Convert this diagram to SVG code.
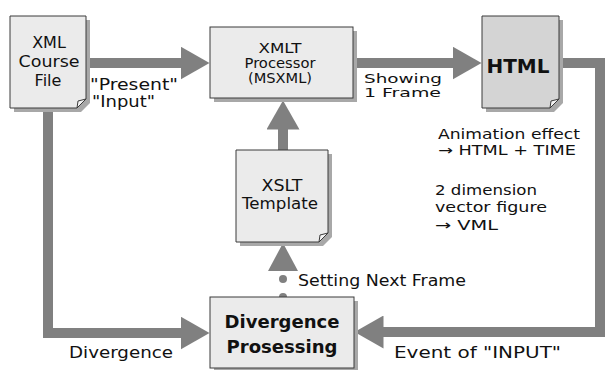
<svg xmlns="http://www.w3.org/2000/svg" width="611" height="370" viewBox="0 0 611 370">
<style>
.bg{fill:#ffffff}
.shadow{fill:#a8a8a8}
.node{fill:#ebebeb;stroke:#3a3a3a;stroke-width:1}
.dark{fill:#d4d4d4}
.fold{fill:#f4f4f4;stroke:#3a3a3a;stroke-width:1}
.conn{fill:none;stroke:#808080;stroke-width:10;stroke-linejoin:miter}
.head{fill:#808080}
text{font-family:"DejaVu Sans","Liberation Sans",sans-serif;fill:#111111}
.c{text-anchor:middle}
.b{font-weight:bold}
</style>
<defs>
<marker id="ah" markerUnits="userSpaceOnUse" viewBox="0 0 29 33" markerWidth="29" markerHeight="33" refX="0.5" refY="16.5" orient="auto">
<path d="M0,0 L29,16.5 L0,33 Z" fill="#808080"/>
</marker>
</defs>
<rect class="bg" x="0" y="0" width="611" height="370"/>

<g id="connectors">
<path class="conn" d="M86,63 H181" marker-end="url(#ah)"/>
<path class="conn" d="M353,63 H453" marker-end="url(#ah)"/>
<path class="conn" d="M559,63 H600 V332 H383" marker-end="url(#ah)"/>
<path class="conn" d="M48,108 V333 H181" marker-end="url(#ah)"/>
<path class="conn" d="M283,150 V129" marker-end="url(#ah)"/>
<polygon class="head" points="268,271 283,243 298,271"/>
<circle class="head" cx="283" cy="279" r="4"/>
<circle class="head" cx="283" cy="297" r="4"/>
</g>

<g id="xml-course-file">
<path class="shadow" d="M14,20 H90 V103 L81,112 H14 Z"/>
<path class="node" d="M10,16 H86 V99 L77,108 H10 Z"/>
<path class="fold" d="M86,99 L78,101 L77,108 Z"/>
<text class="c" x="49" y="48" font-size="16">XML</text>
<text class="c" x="49" y="67" font-size="16" textLength="61" lengthAdjust="spacingAndGlyphs">Course</text>
<text class="c" x="48" y="86" font-size="16">File</text>
</g>

<g id="xmlt-processor">
<rect class="shadow" x="214" y="31" width="143" height="71"/>
<rect class="node" x="210" y="27" width="143" height="71"/>
<text class="c" x="280" y="53" font-size="14" textLength="43" lengthAdjust="spacingAndGlyphs">XMLT</text>
<text class="c" x="280" y="68" font-size="14" textLength="71" lengthAdjust="spacingAndGlyphs">Processor</text>
<text class="c" x="280" y="83" font-size="14" textLength="64" lengthAdjust="spacingAndGlyphs">(MSXML)</text>
</g>

<g id="html">
<path class="shadow" d="M486,20 H563 V103 L554,112 H486 Z"/>
<path class="node dark" d="M482,16 H559 V99 L550,108 H482 Z"/>
<path class="fold" d="M559,99 L551,101 L550,108 Z"/>
<text class="c b" x="518" y="73" font-size="19" textLength="63" lengthAdjust="spacingAndGlyphs">HTML</text>
</g>

<g id="xslt-template">
<path class="shadow" d="M240,154 H332 V237 L323,246 H240 Z"/>
<path class="node" d="M236,150 H328 V233 L319,242 H236 Z"/>
<path class="fold" d="M328,233 L320,235 L319,242 Z"/>
<text class="c" x="282" y="191" font-size="15" textLength="41" lengthAdjust="spacingAndGlyphs">XSLT</text>
<text class="c" x="280" y="209" font-size="15" textLength="76" lengthAdjust="spacingAndGlyphs">Template</text>
</g>

<g id="divergence-processing">
<rect class="shadow" x="214" y="301" width="144" height="71"/>
<rect class="node" x="210" y="297" width="144" height="71"/>
<text class="c b" x="282" y="328" font-size="17" textLength="115" lengthAdjust="spacingAndGlyphs">Divergence</text>
<text class="c b" x="282" y="353" font-size="17" textLength="111" lengthAdjust="spacingAndGlyphs">Prosessing</text>
</g>

<g id="labels">
<text x="90" y="90" font-size="15" textLength="88" lengthAdjust="spacingAndGlyphs">"Present"</text>
<text x="92" y="107" font-size="15" textLength="63" lengthAdjust="spacingAndGlyphs">"Input"</text>
<text x="364" y="83" font-size="13" textLength="78" lengthAdjust="spacingAndGlyphs">Showing</text>
<text x="364" y="97" font-size="13" textLength="77" lengthAdjust="spacingAndGlyphs">1 Frame</text>
<text x="438" y="139" font-size="13.5" textLength="142" lengthAdjust="spacingAndGlyphs">Animation effect</text>
<text x="438" y="155" font-size="13.5" textLength="138" lengthAdjust="spacingAndGlyphs">→ HTML + TIME</text>
<text x="435" y="195" font-size="14" textLength="102" lengthAdjust="spacingAndGlyphs">2 dimension</text>
<text x="435" y="212" font-size="14" textLength="112" lengthAdjust="spacingAndGlyphs">vector figure</text>
<text x="435" y="230" font-size="14" textLength="63" lengthAdjust="spacingAndGlyphs">→ VML</text>
<text x="298" y="286" font-size="16" textLength="168" lengthAdjust="spacingAndGlyphs">Setting Next Frame</text>
<text x="69" y="358" font-size="15" textLength="104" lengthAdjust="spacingAndGlyphs">Divergence</text>
<text x="394" y="358" font-size="16" textLength="167" lengthAdjust="spacingAndGlyphs">Event of "INPUT"</text>
</g>
</svg>
